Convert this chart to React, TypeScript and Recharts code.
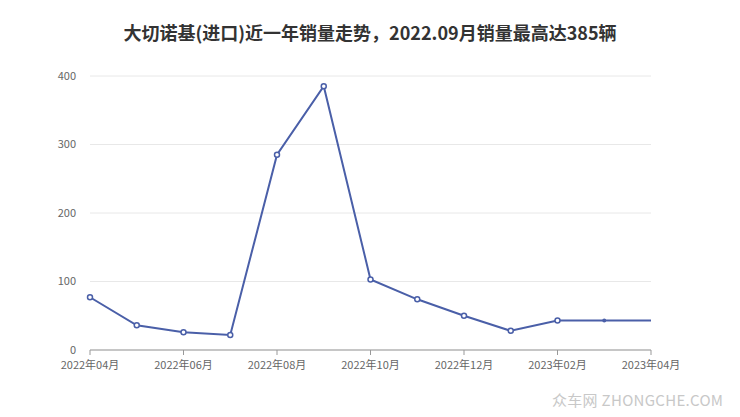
import React from 'react'
import { LineChart, Line, XAxis, YAxis, CartesianGrid } from 'recharts'

const months = [
  '2022年04月', '2022年05月', '2022年06月', '2022年07月', '2022年08月', '2022年09月', '2022年10月',
  '2022年11月', '2022年12月', '2023年01月', '2023年02月', '2023年03月', '2023年04月',
]
const sales = [77, 36, 26, 22, 285, 385, 103, 74, 50, 28, 43, 43, 43]
const yTicks = [0, 100, 200, 300, 400]

const chartData = months.map((m, i) => ({ month: m, sales: sales[i] }))

const FONT = '"Noto Sans CJK SC", "Noto Sans", sans-serif'
const LINE = '#4a5fa8'

// hollow markers everywhere, small filled one near the end, none on the last
function Marker(props: any) {
  const { cx, cy, index } = props
  if (index === months.length - 1) return <g key={index} />
  if (index === months.length - 2) return <circle key={index} cx={cx} cy={cy} r={2} fill={LINE} />
  return <circle key={index} cx={cx} cy={cy} r={2.5} fill="#fff" stroke={LINE} strokeWidth={1.5} />
}

export default function App() {
  return (
    <div style={{ position: 'absolute', left: 0, top: 0, width: 740, height: 417, background: '#fff', fontFamily: FONT }}>
      <div style={{ position: 'absolute', top: 19, width: 740, textAlign: 'center', fontSize: 18, fontWeight: 'bold', color: '#333' }}>
        大切诺基(进口)近一年销量走势，2022.09月销量最高达385辆
      </div>
      <LineChart width={740} height={417} data={chartData} margin={{ top: 76, right: 89, bottom: 37, left: 50 }}>
        <CartesianGrid vertical={false} stroke="#e8e8e8" />
        <XAxis
          dataKey="month"
          interval={1}
          stroke="#999"
          tickSize={5}
          tickMargin={6}
          height={30}
          tick={{ fill: '#666', fontSize: 11, fontFamily: FONT }}
        />
        <YAxis
          domain={[0, 400]}
          ticks={yTicks}
          width={40}
          axisLine={false}
          tickLine={false}
          tickMargin={8}
          tick={{ fill: '#666', fontSize: 11, fontFamily: FONT }}
        />
        <Line
          type="linear"
          dataKey="sales"
          stroke={LINE}
          strokeWidth={2}
          dot={Marker}
          activeDot={false}
          isAnimationActive={false}
        />
      </LineChart>
      <div style={{ position: 'absolute', left: 552, top: 389, fontSize: 15, color: '#c8c8c8', letterSpacing: 0.3 }}>
        众车网 ZHONGCHE.COM
      </div>
    </div>
  )
}
